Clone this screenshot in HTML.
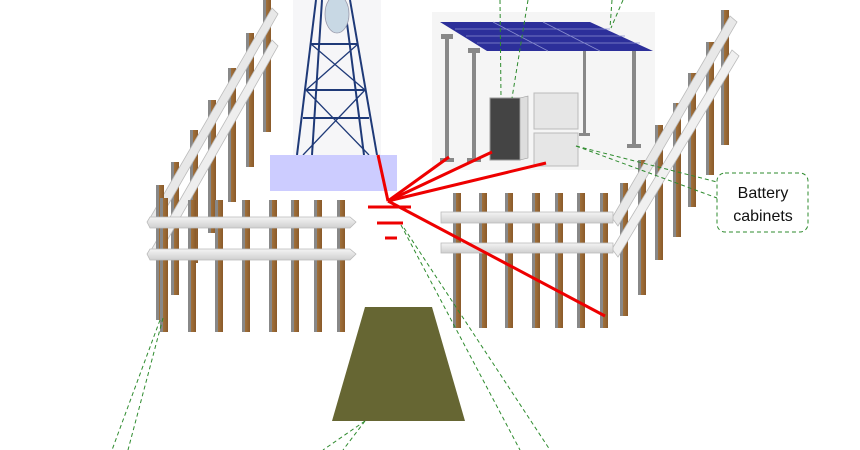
<!DOCTYPE html>
<html><head><meta charset="utf-8"><style>
html,body{margin:0;padding:0;background:#fff;}
svg{display:block;}
</style></head><body>
<svg width="860" height="450" viewBox="0 0 860 450" xmlns="http://www.w3.org/2000/svg">
<defs>
<linearGradient id="post" x1="0" x2="1"><stop offset="0" stop-color="#888"/><stop offset="0.35" stop-color="#888"/><stop offset="0.4" stop-color="#a0703a"/><stop offset="1" stop-color="#8a5a2a"/></linearGradient>
<linearGradient id="rail" x1="0" y1="0" x2="0" y2="1"><stop offset="0" stop-color="#f4f4f4"/><stop offset="1" stop-color="#cfcfcf"/></linearGradient>
<g id="p"><rect x="0" y="0" width="7" height="100" fill="url(#post)"/></g>
</defs>

<!-- left diagonal fence -->
<g>
<rect x="263" y="0" width="8" height="132" fill="url(#post)"/>
<rect x="246" y="33" width="8" height="134" fill="url(#post)"/>
<rect x="228" y="68" width="8" height="134" fill="url(#post)"/>
<rect x="208" y="100" width="8" height="133" fill="url(#post)"/>
<rect x="190" y="130" width="8" height="133" fill="url(#post)"/>
<rect x="171" y="162" width="8" height="133" fill="url(#post)"/>
<polygon points="150,218 272,8 278,14 156,226" fill="#e8e8e8" stroke="#bbb" stroke-width="0.8"/>
<polygon points="150,252 272,40 278,46 156,260" fill="#eee" stroke="#bbb" stroke-width="0.8"/>
<rect x="156" y="185" width="8" height="135" fill="url(#post)"/>
</g>

<!-- left front fence -->
<g>
<rect x="160" y="198" width="8" height="134" fill="url(#post)"/>
<rect x="188" y="200" width="8" height="132" fill="url(#post)"/>
<rect x="215" y="200" width="8" height="132" fill="url(#post)"/>
<rect x="242" y="200" width="8" height="132" fill="url(#post)"/>
<rect x="269" y="200" width="8" height="132" fill="url(#post)"/>
<rect x="291" y="200" width="8" height="132" fill="url(#post)"/>
<rect x="314" y="200" width="8" height="132" fill="url(#post)"/>
<rect x="337" y="200" width="8" height="132" fill="url(#post)"/>
<polygon points="150,217 350,217 356,222 350,228 150,228 147,222" fill="url(#rail)" stroke="#bbb" stroke-width="0.8"/>
<polygon points="150,249 350,249 356,254 350,260 150,260 147,254" fill="url(#rail)" stroke="#bbb" stroke-width="0.8"/>
<rect x="160" y="200" width="8" height="15" fill="url(#post)"/>
</g>

<!-- tower -->
<rect x="293" y="0" width="88" height="155" fill="#f6f6f8"/>
<g stroke="#1f3a78" stroke-width="2" fill="none">
<line x1="316" y1="0" x2="297" y2="155"/>
<line x1="350" y1="0" x2="377" y2="155"/>
<line x1="322" y1="0" x2="312" y2="155"/>
<line x1="344" y1="0" x2="364" y2="155"/>
<line x1="311" y1="44" x2="358" y2="44"/>
<line x1="306" y1="90" x2="365" y2="90"/>
<line x1="303" y1="118" x2="369" y2="118"/>
<line x1="311" y1="44" x2="365" y2="90" stroke-width="1.3"/>
<line x1="358" y1="44" x2="306" y2="90" stroke-width="1.3"/>
<line x1="306" y1="90" x2="369" y2="155" stroke-width="1.3"/>
<line x1="365" y1="90" x2="303" y2="155" stroke-width="1.3"/>
</g>
<ellipse cx="337" cy="14" rx="12" ry="19" fill="#c8d8e4" stroke="#99a" stroke-width="0.8"/>
<rect x="270" y="155" width="127" height="36" fill="#ccccff"/>

<!-- solar -->
<rect x="432" y="12" width="223" height="158" fill="#f5f5f5"/>
<g fill="#888">
<rect x="445" y="38" width="4" height="122"/><rect x="441" y="34" width="12" height="5"/><rect x="440" y="158" width="14" height="4"/>
<rect x="472" y="50" width="4" height="112"/><rect x="468" y="48" width="12" height="5"/><rect x="467" y="158" width="14" height="4"/>
<rect x="583" y="50" width="3" height="86"/><rect x="579" y="133" width="11" height="3"/>
<rect x="632" y="50" width="4" height="96"/><rect x="627" y="144" width="14" height="4"/>
</g>
<polygon points="440,22 590,22 653,51 487,51" fill="#2c2f9a"/>
<g stroke="#8a8fd0" stroke-width="0.8">
<line x1="455" y1="29" x2="610" y2="29"/><line x1="466" y1="36" x2="625" y2="36"/><line x1="477" y1="43" x2="640" y2="43"/>
<line x1="493" y1="22" x2="548" y2="51"/><line x1="543" y1="22" x2="600" y2="51"/>
</g>
<rect x="490" y="98" width="30" height="62" fill="#444" stroke="#999"/>
<polygon points="520,98 528,96 528,158 520,160" fill="#ddd" stroke="#999" stroke-width="0.6"/>
<rect x="534" y="93" width="44" height="36" fill="#e6e6e6" stroke="#bbb"/>
<rect x="534" y="133" width="44" height="33" fill="#e6e6e6" stroke="#bbb"/>

<!-- right diagonal fence -->
<g>
<rect x="721" y="10" width="8" height="135" fill="url(#post)"/>
<rect x="706" y="42" width="8" height="133" fill="url(#post)"/>
<rect x="688" y="73" width="8" height="134" fill="url(#post)"/>
<rect x="673" y="103" width="8" height="134" fill="url(#post)"/>
<rect x="655" y="125" width="8" height="135" fill="url(#post)"/>
<rect x="638" y="160" width="8" height="135" fill="url(#post)"/>
<rect x="620" y="183" width="8" height="133" fill="url(#post)"/>
<polygon points="612,218 730,16 737,22 618,226" fill="#e8e8e8" stroke="#bbb" stroke-width="0.8"/>
<polygon points="612,249 732,50 739,56 618,257" fill="#f0f0f0" stroke="#bbb" stroke-width="0.8"/>
</g>

<!-- right front fence -->
<g>
<rect x="453" y="193" width="8" height="135" fill="url(#post)"/>
<rect x="479" y="193" width="8" height="135" fill="url(#post)"/>
<rect x="505" y="193" width="8" height="135" fill="url(#post)"/>
<rect x="532" y="193" width="8" height="135" fill="url(#post)"/>
<rect x="555" y="193" width="8" height="135" fill="url(#post)"/>
<rect x="577" y="193" width="8" height="135" fill="url(#post)"/>
<rect x="600" y="193" width="8" height="135" fill="url(#post)"/>
<rect x="441" y="212" width="172" height="11" fill="url(#rail)" stroke="#bbb" stroke-width="0.8"/>
<rect x="441" y="243" width="172" height="10" fill="url(#rail)" stroke="#bbb" stroke-width="0.8"/>
</g>

<!-- trapezoid -->
<polygon points="365,307 432,307 465,421 332,421" fill="#666633"/>

<!-- red lines & ground -->
<g stroke="#ee0000" stroke-width="3" fill="none">
<line x1="388" y1="201" x2="378" y2="155"/>
<line x1="388" y1="201" x2="449" y2="157"/>
<line x1="388" y1="201" x2="492" y2="152"/>
<line x1="388" y1="201" x2="546" y2="163"/>
<line x1="388" y1="201" x2="605" y2="316"/>
<line x1="368" y1="207" x2="411" y2="207"/>
<line x1="377" y1="223" x2="403" y2="223"/>
<line x1="385" y1="238" x2="397" y2="238"/>
</g>

<!-- green dashed -->
<g stroke="#2e8b2e" stroke-width="1" stroke-dasharray="4,3" fill="none">
<line x1="160" y1="320" x2="112" y2="450"/>
<line x1="163" y1="318" x2="128" y2="450"/>
<line x1="401" y1="225" x2="520" y2="450"/>
<line x1="404" y1="228" x2="550" y2="450"/>
<line x1="365" y1="421" x2="323" y2="450"/>
<line x1="365" y1="421" x2="343" y2="450"/>
<line x1="500" y1="0" x2="501" y2="98"/>
<line x1="528" y1="0" x2="512" y2="98"/>
<line x1="612" y1="0" x2="610" y2="28"/>
<line x1="623" y1="0" x2="611" y2="28"/>
<line x1="576" y1="146" x2="717" y2="182"/>
<line x1="576" y1="146" x2="717" y2="198"/>
</g>

<!-- label -->
<rect x="717" y="173" width="91" height="59" rx="8" fill="#fff" stroke="#2e8b2e" stroke-width="1" stroke-dasharray="4,3"/>
<text x="763" y="198" text-anchor="middle" font-family="Liberation Sans, sans-serif" font-size="16" fill="#111">Battery</text>
<text x="763" y="221" text-anchor="middle" font-family="Liberation Sans, sans-serif" font-size="16" fill="#111">cabinets</text>
</svg>
</body></html>
